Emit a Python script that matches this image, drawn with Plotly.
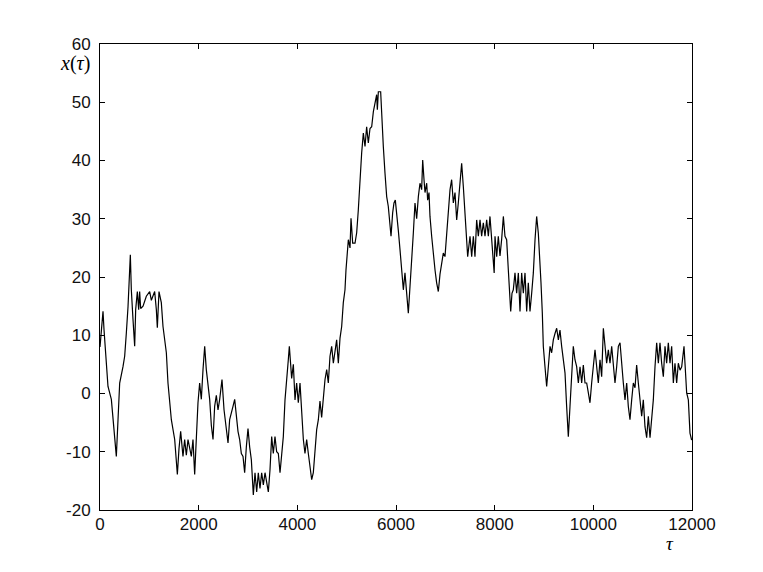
import plotly.graph_objects as go

# values
tau = [
    0, 61, 81, 128, 162, 230, 264, 331, 365, 399, 466, 500, 534, 568, 615, 635,
    669, 703, 723, 757, 784, 804, 824, 872, 939, 1007, 1041, 1108, 1142, 1162,
    1196, 1243, 1277, 1311, 1345, 1378, 1412, 1446, 1514, 1547, 1568, 1601,
    1635, 1682, 1716, 1750, 1784, 1851, 1885, 1919, 1953, 1986, 2020, 2054,
    2088, 2122, 2155, 2189, 2223, 2257, 2291, 2324, 2358, 2392, 2426, 2473,
    2514, 2561, 2595, 2628, 2662, 2696, 2730, 2764, 2797, 2831, 2865, 2899,
    2932, 2966, 3000, 3034, 3068, 3108, 3142, 3176, 3209, 3243, 3277, 3311,
    3345, 3378, 3412, 3446, 3480, 3513, 3547, 3581, 3615, 3649, 3682, 3716,
    3750, 3784, 3817, 3838, 3865, 3885, 3919, 3953, 3986, 4020, 4054, 4088,
    4122, 4155, 4189, 4223, 4257, 4291, 4324, 4358, 4392, 4426, 4459, 4493,
    4527, 4561, 4595, 4628, 4662, 4696, 4730, 4764, 4797, 4831, 4865, 4899,
    4932, 4966, 4986, 5034, 5068, 5088, 5122, 5169, 5203, 5236, 5270, 5304,
    5338, 5372, 5405, 5439, 5473, 5507, 5541, 5574, 5608, 5622, 5642, 5689,
    5709, 5743, 5777, 5811, 5844, 5878, 5899, 5932, 5959, 5986, 6013, 6047,
    6081, 6115, 6149, 6182, 6216, 6250, 6284, 6318, 6351, 6385, 6419, 6453,
    6486, 6520, 6541, 6568, 6588, 6622, 6642, 6669, 6689, 6723, 6757, 6791,
    6824, 6858, 6892, 6926, 6959, 6993, 7027, 7061, 7095, 7128, 7162, 7196,
    7230, 7263, 7297, 7331, 7365, 7399, 7432, 7453, 7500, 7534, 7568, 7601,
    7635, 7669, 7703, 7736, 7770, 7804, 7838, 7872, 7905, 7939, 7973, 7990,
    8007, 8041, 8074, 8108, 8142, 8176, 8209, 8243, 8277, 8297, 8325, 8351,
    8378, 8412, 8446, 8480, 8514, 8547, 8581, 8615, 8649, 8682, 8716, 8750,
    8784, 8818, 8851, 8885, 8919, 8939, 8966, 8986, 9020, 9054, 9088, 9122,
    9155, 9189, 9223, 9257, 9291, 9324, 9358, 9392, 9426, 9459, 9493, 9527,
    9561, 9594, 9628, 9662, 9696, 9730, 9764, 9797, 9831, 9865, 9899, 9932,
    9966, 10000, 10034, 10068, 10101, 10135, 10169, 10203, 10236, 10270,
    10304, 10338, 10372, 10405, 10439, 10473, 10507, 10541, 10574, 10608,
    10642, 10676, 10709, 10743, 10777, 10811, 10845, 10878, 10912, 10946,
    10980, 11013, 11047, 11081, 11115, 11149, 11182, 11216, 11250, 11284,
    11318, 11351, 11385, 11419, 11453, 11486, 11520, 11554, 11588, 11622,
    11655, 11689, 11723, 11757, 11791, 11838, 11858, 11892, 11926, 11959,
    11993,
]
x_tau = [
    8, 14.1, 11, 5.8, 1.2, -1, -4.5, -10.8, -4.5, 1.8, 4.6, 6.4, 10.4, 14.9,
    23.8, 17.8, 12.7, 8.1, 14.4, 17.5, 14.4, 17.5, 14.6, 15, 16.7, 17.5, 16,
    17.5, 14.4, 11.3, 17.5, 15.6, 11.5, 8.7, 7, 1.8, -1, -4.5, -7.9, -11.4,
    -13.9, -9.5, -6.5, -10.8, -7.9, -10.6, -7.9, -10.8, -7.9, -13.9, -6.5,
    -1.6, 1.8, -1, 4.1, 8.1, 4.1, 1.2, -1, -5.5, -7.9, -2.2, -0.3, -2.8, -1,
    2.4, -2.8, -6.1, -8.5, -4.5, -3.5, -2.2, -1, -4.5, -6.5, -7.9, -10.3,
    -10.8, -13.6, -9.2, -6, -9.2, -11.4, -17.4, -13.6, -16.9, -13.6, -16.3,
    -13.6, -15.7, -13.6, -15.2, -16.9, -13.1, -7.4, -10.3, -7.4, -10, -10.3,
    -13.6, -10.3, -7.4, -1.1, 1.8, 5.8, 8.1, 5, 2.6, 5, -1.1, 1.8, -1.6, 1.8,
    -3.9, -7.9, -10.3, -7.9, -10.3, -13.1, -14.8, -13.6, -10.3, -6.2, -4.5,
    -1.3, -4.1, -0.9, 2.4, 4.1, 1.8, 6.4, 8.1, 5.2, 7.5, 9.2, 5.2, 9.5, 11.5,
    15.6, 17.8, 21.2, 26.4, 25, 30.1, 25.8, 25.8, 27.6, 31.5, 36.7, 41.3,
    44.7, 42.4, 45.8, 43, 45.5, 45.8, 48.4, 49.8, 51.3, 48.7, 51.8, 51.8,
    47.5, 42.4, 37.8, 33.8, 32.1, 28.7, 27, 31, 32.7, 33.2, 30.3, 28, 24.7,
    21.2, 17.8, 20.7, 16.6, 13.8, 18.4, 22.4, 27.5, 32.7, 30, 33.8, 36.1, 35,
    40.1, 36.7, 34.5, 36.1, 33.2, 34.5, 30.4, 27, 23.5, 21.2, 19, 17.5, 20.5,
    22.3, 24.1, 23.5, 27, 31.5, 35, 36.7, 32.7, 34.5, 29.8, 32.7, 36.7, 39.5,
    35.5, 31, 27, 23.5, 27, 23.5, 27, 23.5, 29.8, 27, 29.8, 27, 29.3, 27,
    29.8, 27, 30.4, 26.4, 23.5, 20.7, 27, 23.5, 27, 23.6, 26.5, 30.4, 27,
    26.4, 21.2, 17.2, 14.1, 17.2, 17.8, 20.7, 17.2, 20.7, 14.1, 20.7, 17.2,
    20.7, 14.1, 19, 14.1, 17.2, 20.7, 26.4, 30.4, 27.5, 23, 19, 13.8, 8.1,
    4.6, 1.2, 4.6, 8.1, 7, 9.2, 10.3, 11.2, 9.2, 10.9, 8.1, 5.8, 3.5, -2.2,
    -7.4, -2.2, 3.5, 8.1, 5.8, 4.6, 1.8, 4.6, 1.8, 4.9, 1.8, 1.8, 0.1, -1.6,
    1.8, 4.6, 7.5, 4.6, 1.8, 5.8, 2.9, 11.2, 8.1, 5.2, 7.5, 5.2, 8.1, 4.6,
    1.8, 4.6, 8.1, 8.7, 4.6, 1.8, -1.1, 1.8, -2.2, -4.5, -1.1, 1.8, 1, 4.9,
    1.8, -1.1, -3.9, -1.1, -5.7, -7.6, -3.9, -7.6, -3.9, -1.1, 4.6, 8.7, 5.2,
    8.7, 5.2, 2.9, 8.1, 5.2, 8.7, 5.2, 8.1, 1.8, 5.2, 1.8, 5.2, 4, 4.6, 8.1,
    5.2, 0.1, -1.1, -6.8, -8,
]

x_ticks = [0, 2000, 4000, 6000, 8000, 10000, 12000]
x_tick_labels = ["0", "2000", "4000", "6000", "8000", "10000", "12000"]
y_ticks = [-20, -10, 0, 10, 20, 30, 40, 50, 60]
y_tick_labels = ["-20", "-10", "0", "10", "20", "30", "40", "50", "60"]

fig = go.Figure()

fig.add_trace(go.Scatter(
    x=tau,
    y=x_tau,
    mode="lines",
    line=dict(color="black", width=1.2),
    showlegend=False,
))

axis_style = dict(
    showline=True,
    linecolor="black",
    linewidth=1,
    mirror="ticks",
    ticks="inside",
    ticklen=5,
    tickcolor="black",
    showgrid=False,
    zeroline=False,
    tickfont=dict(family="Liberation Sans, Arial", size=17, color="#111"),
)

# page body has an 8px margin, so the figure is shrunk by that much
fig.update_layout(
    width=755,
    height=564,
    paper_bgcolor="white",
    plot_bgcolor="white",
    margin=dict(l=92, r=71, t=36, b=62, autoexpand=False),
    xaxis=dict(range=[0, 12000], tickvals=x_ticks, ticktext=x_tick_labels,
               ticklabelstandoff=-1, **axis_style),
    yaxis=dict(range=[-20, 60], tickvals=y_ticks, ticktext=y_tick_labels,
               ticklabelstandoff=5, **axis_style),
    annotations=[
        dict(text="<i>x</i>(<i>τ</i>)", xref="paper", yref="paper",
             x=-0.013, y=0.959, xanchor="right", yanchor="middle",
             showarrow=False,
             font=dict(family="Liberation Serif, serif", size=20, color="black")),
        dict(text="<i>τ</i>", xref="paper", yref="paper",
             x=0.963, y=-0.072, xanchor="center", yanchor="middle",
             showarrow=False,
             font=dict(family="Liberation Serif, serif", size=19, color="black")),
    ],
    shapes=[
        dict(type="line", xref="paper", yref="paper",
             x0=1.108, x1=1.108, y0=0.113, y1=0.119,
             line=dict(color="#555", width=1)),
    ],
)

fig.write_html("out.html")
